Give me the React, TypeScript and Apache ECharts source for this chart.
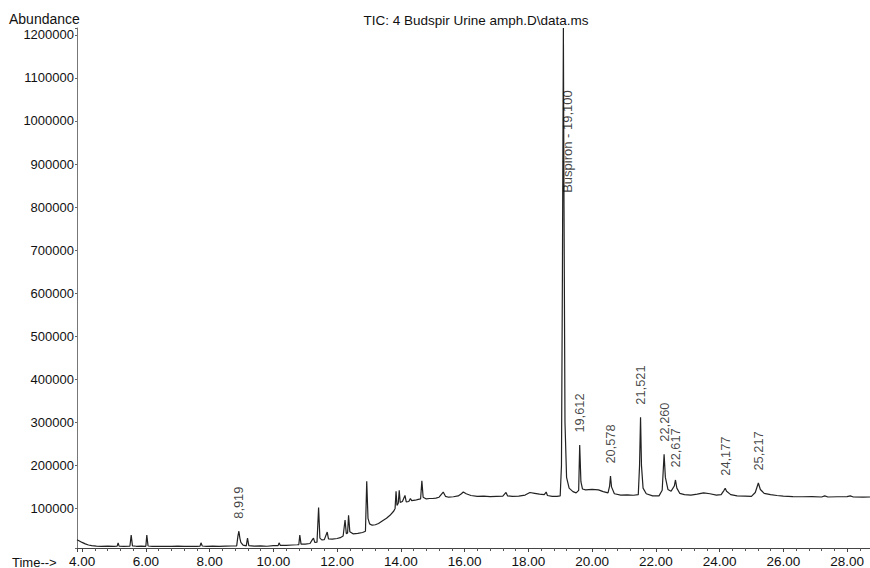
import React, { useEffect, useRef } from "react";
import * as echarts from "echarts";

const chartTitle = "TIC: 4 Budspir Urine amph.D\\data.ms";
const yAxisName = "Abundance";
const xAxisName = "Time-->";
const timeRange = [3.84, 28.72];
const abundanceRange = [8000, 1216000];

// retention time (min), abundance
const traceEarly: [number, number][] = [
  [3.84, 27000], [3.9, 25000], [4.0, 21000], [4.1, 17500], [4.2, 15000], [4.3, 13500],
  [4.45, 12500], [4.6, 12000], [4.8, 12400], [5.0, 11800], [5.1, 12200], [5.13, 20000],
  [5.16, 12300], [5.3, 11900], [5.5, 12100], [5.54, 38000], [5.58, 13000], [5.7, 12000],
  [5.85, 12300], [6.0, 11900], [6.03, 38000], [6.07, 12700], [6.2, 12000], [6.4, 11700],
  [6.6, 12100], [6.8, 11800], [7.0, 12200], [7.2, 11700], [7.4, 12000], [7.6, 11800],
  [7.7, 12400], [7.73, 20000], [7.77, 12600], [7.9, 12000], [8.1, 12300], [8.3, 11800],
  [8.5, 12400], [8.7, 12700], [8.85, 13000],
];

const traceMiddle: [number, number][] = [
  [8.89, 36000], [8.919, 47000], [8.95, 31000], [8.98, 21000], [9.05, 14500], [9.15, 13000],
  [9.19, 31000], [9.23, 13500], [9.4, 12300], [9.6, 13000], [9.8, 12100], [10.0, 13300],
  [10.15, 13500], [10.18, 20000], [10.22, 14000], [10.4, 14300], [10.6, 15000], [10.75, 15500],
  [10.8, 16000], [10.83, 38000], [10.87, 17000], [11.0, 17000], [11.15, 18500], [11.22, 27000],
  [11.26, 31000], [11.3, 21000], [11.37, 21500], [11.42, 102000], [11.46, 31000], [11.52, 27000],
  [11.6, 27500], [11.69, 45000], [11.73, 29000], [11.85, 28500], [12.0, 30000], [12.1, 32000],
  [12.19, 36000], [12.25, 73000], [12.29, 41000], [12.33, 43000], [12.36, 84000], [12.4, 46000],
  [12.5, 41000], [12.65, 42000], [12.8, 44000], [12.89, 47000], [12.93, 163000], [12.97, 77000],
  [13.02, 64000], [13.1, 61000], [13.2, 62000], [13.3, 65000],
];

const traceRise: [number, number][] = [
  [13.44, 72000], [13.55, 77000], [13.66, 84000], [13.78, 94000], [13.82, 100000], [13.85, 140000],
  [13.88, 107000], [13.92, 112000], [13.95, 142000], [13.98, 114000], [14.05, 116000], [14.13, 130000],
  [14.17, 115000], [14.25, 116000], [14.3, 123000], [14.34, 118000], [14.45, 119000], [14.55, 121000],
  [14.62, 122000], [14.66, 164000], [14.7, 126000], [14.8, 122000], [14.9, 123000], [15.0, 123000],
  [15.1, 124000], [15.2, 126000], [15.33, 138000], [15.4, 128000], [15.5, 126000], [15.65, 127000],
  [15.8, 129000], [15.9, 134000], [15.96, 138000], [16.05, 134000],
];

const tracePlateau: [number, number][] = [
  [16.2, 130000], [16.4, 128000], [16.6, 128500], [16.8, 127500], [17.0, 128000], [17.2, 128500],
  [17.3, 137000], [17.35, 129000], [17.5, 128000], [17.7, 128500], [17.9, 131000], [18.05, 137000],
  [18.2, 135000], [18.35, 133000], [18.5, 132000], [18.56, 138000], [18.6, 130000], [18.75, 128000],
  [18.9, 128000], [19.0, 129000], [19.04, 200000], [19.07, 650000], [19.1, 1216000], [19.12, 800000],
  [19.15, 300000], [19.2, 172000], [19.28, 147000], [19.4, 139000], [19.5, 136000],
];

const traceLate: [number, number][] = [
  [19.58, 142000], [19.612, 247000], [19.65, 162000], [19.7, 145000], [19.8, 143000], [20.0, 144000],
  [20.2, 143000], [20.35, 139000], [20.5, 136000], [20.55, 152000], [20.578, 175000], [20.61, 150000],
  [20.7, 134000], [20.9, 131000], [21.1, 131500], [21.3, 130500], [21.45, 132000], [21.49, 200000],
  [21.521, 312000], [21.55, 200000], [21.6, 147000], [21.7, 134000], [21.9, 129000], [22.1, 129000],
  [22.2, 142000], [22.26, 226000], [22.3, 172000], [22.38, 144000], [22.48, 140000], [22.58, 152000],
  [22.617, 166000], [22.66, 147000], [22.75, 135000], [22.9, 132000], [23.1, 131000], [23.3, 133000],
  [23.5, 136000], [23.7, 134000], [23.9, 131000], [24.05, 132000], [24.14, 142000], [24.177, 147000],
  [24.22, 140000], [24.35, 132000], [24.55, 129000], [24.8, 128500], [25.0, 128000], [25.12, 137000],
  [25.217, 159000], [25.28, 144000], [25.4, 135000], [25.6, 132000], [25.8, 130000], [26.0, 128500],
  [26.3, 127500], [26.6, 127000], [26.9, 127500], [27.2, 126500], [27.3, 129000], [27.4, 126500],
  [27.7, 127000], [28.0, 127500], [28.1, 129000], [28.2, 126500], [28.5, 126000], [28.72, 126500],
];

const peakTimes = [8.919, 19.612, 20.578, 21.521, 22.26, 22.617, 24.177, 25.217];
const peakAbundance = [47000, 247000, 175000, 312000, 226000, 166000, 147000, 159000];
const peakLabels = ["8,919", "19,612", "20,578", "21,521", "22,260", "22,617", "24,177", "25,217"];

const mainPeakLabel = "Buspiron - 19,100";
const mainPeakTime = 19.1;
const mainPeakLabelLevel = 833000;

const FONT = "'Liberation Sans', Arial, Helvetica, sans-serif";

export default function App() {
  const ref = useRef<HTMLDivElement>(null);

  useEffect(() => {
    if (!ref.current) return;
    const chart = echarts.init(ref.current, undefined, { renderer: "svg" });

    const trace = [...traceEarly, ...traceMiddle, ...traceRise, ...tracePlateau, ...traceLate];
    const peakData = peakTimes.map((t, i) => [t, peakAbundance[i], peakLabels[i]]);

    chart.setOption({
      animation: false,
      backgroundColor: "#ffffff",
      textStyle: { fontFamily: FONT },
      grid: { left: 77, right: 0, top: 28, bottom: 20, outerBoundsMode: "none", containLabel: false },
      graphic: [
        {
          type: "text", left: 9, top: 12,
          style: { text: yAxisName, font: `14px ${FONT}`, fill: "#111" },
        },
        {
          type: "text", x: 476, y: 20,
          style: { text: chartTitle, font: `13.5px ${FONT}`, fill: "#111", textAlign: "center", textVerticalAlign: "middle" },
        },
        {
          type: "text", x: 12, y: 562,
          style: { text: xAxisName, font: `13px ${FONT}`, fill: "#111", textAlign: "left", textVerticalAlign: "middle" },
        },
      ],
      xAxis: {
        type: "value",
        min: timeRange[0],
        max: timeRange[1],
        minInterval: 2,
        maxInterval: 2,
        splitLine: { show: false },
        axisLine: { show: true, lineStyle: { color: "#444", width: 1 } },
        axisTick: { show: true, length: 4, lineStyle: { color: "#444" } },
        minorTick: { show: true, splitNumber: 5, length: 3, lineStyle: { color: "#555" } },
        axisLabel: {
          color: "#111",
          fontSize: 13.5,
          fontFamily: FONT,
          margin: 6,
          showMinLabel: false,
          showMaxLabel: false,
          formatter: (v: number) => (Math.abs(v / 2 - Math.round(v / 2)) < 1e-6 ? v.toFixed(2) : ""),
        },
      },
      yAxis: {
        type: "value",
        min: abundanceRange[0],
        max: abundanceRange[1],
        minInterval: 100000,
        maxInterval: 100000,
        splitLine: { show: false },
        axisLine: { show: true, lineStyle: { color: "#777", width: 1 } },
        axisTick: { show: true, length: 2, lineStyle: { color: "#666" } },
        axisLabel: {
          color: "#111",
          fontSize: 13,
          fontFamily: FONT,
          margin: 3,
          formatter: (v: number) => (v > 0 && v % 100000 === 0 ? String(v) : ""),
        },
      },
      series: [
        {
          type: "line",
          data: trace,
          showSymbol: false,
          symbol: "none",
          clip: true,
          lineStyle: { color: "#222", width: 1.2 },
          silent: true,
        },
        {
          type: "scatter",
          data: peakData,
          symbolSize: 1,
          itemStyle: { color: "rgba(0,0,0,0)" },
          silent: true,
          z: 5,
          label: {
            show: true,
            position: "top",
            distance: 12,
            rotate: 90,
            align: "left",
            verticalAlign: "middle",
            color: "#111",
            fontSize: 12.8,
            fontFamily: FONT,
            formatter: (p: any) => p.data[2],
          },
        },
        {
          type: "scatter",
          data: [[mainPeakTime, mainPeakLabelLevel, mainPeakLabel]],
          symbolSize: 1,
          itemStyle: { color: "rgba(0,0,0,0)" },
          silent: true,
          z: 5,
          label: {
            show: true,
            position: "right",
            distance: 4,
            rotate: 90,
            align: "left",
            verticalAlign: "middle",
            color: "#111",
            fontSize: 13,
            fontFamily: FONT,
            formatter: (p: any) => p.data[2],
          },
        },
      ],
    });

    return () => chart.dispose();
  }, []);

  return (
    <div
      ref={ref}
      style={{ position: "fixed", left: 0, top: 0, width: 870, height: 568, background: "#fff" }}
    />
  );
}
